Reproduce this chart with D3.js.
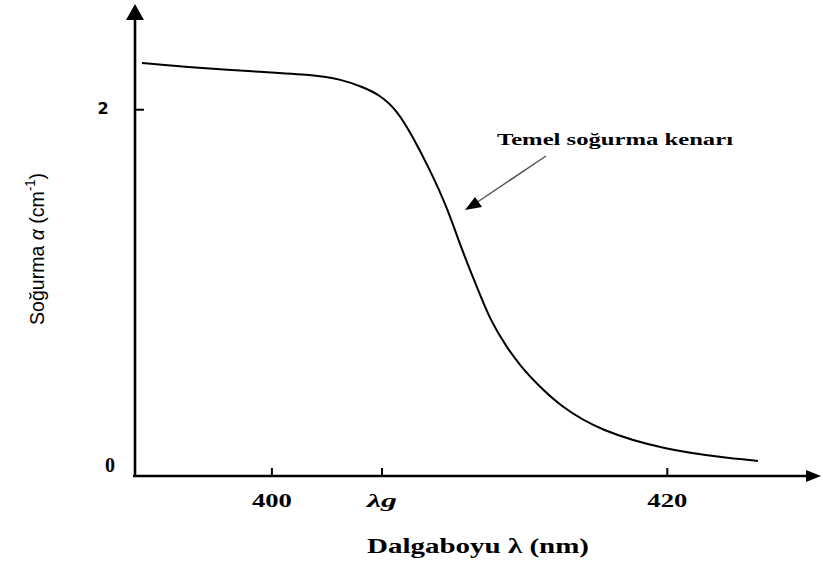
<!DOCTYPE html>
<html>
<head>
<meta charset="utf-8">
<script src="https://cdn.jsdelivr.net/npm/d3@7"></script>
<style>
	body { margin: 0; background: #fff; }
	svg { display: block; }
</style>
</head>
<body>
<div id="graph"></div>
<script>
let width = 823;
let height = 562;

// Absorption curve
let wavelength = [393.45, 396.24, 399.57, 402.10, 403.47, 404.63, 405.49, 406.35, 407.16, 408.02, 408.88,
	409.69, 410.40, 411.06, 411.92, 412.68, 413.44, 414.60, 416.63, 420.01, 422.69, 424.61];
let absorption = [2.255, 2.228, 2.206, 2.190, 2.168, 2.124, 2.080, 1.998, 1.851, 1.671, 1.469,
	1.218, 1.032, 0.852, 0.699, 0.590, 0.502, 0.382, 0.246, 0.142, 0.104, 0.082];

let xTickValues = [400, 405.57, 420];
let xTickLabels = ["400", "λg", "420"];
let yTickValues = [0, 2];
let yTickLabels = ["0", "2"];

let data = wavelength.map((w, i) => ({ x: w, y: absorption[i] }));

let xScale = d3.scaleLinear()
	.domain([393.1, 427.8])
	.range([135, 821]);
let yScale = d3.scaleLinear()
	.domain([0, 2.55])
	.range([476, 9]);

let svg = d3.select("#graph")
	.append("svg")
		.attr("width", width)
		.attr("height", height);

let x0 = xScale(393.1);

// y axis line + arrow
svg.append("line")
	.attr("x1", x0).attr("x2", x0)
	.attr("y1", yScale(0) + 1).attr("y2", 18)
	.attr("stroke", "#000").attr("stroke-width", 2.6);
svg.append("path")
	.attr("d", `M${x0},4 L${x0 - 9},20 L${x0 + 9},20 Z`)
	.attr("fill", "#000");

// x axis (ticks pointing up)
let xAxis = d3.axisBottom(xScale)
	.tickValues(xTickValues)
	.tickSizeInner(-8)
	.tickSizeOuter(0)
	.tickPadding(18)
	.tickFormat((d, i) => xTickLabels[i]);

let gx = svg.append("g")
	.attr("transform", `translate(0, ${yScale(0)})`)
	.call(xAxis);
gx.select(".domain")
	.attr("d", `M${x0 - 2},0 H${xScale(427.8) - 12}`)
	.attr("stroke-width", 2.6);
gx.selectAll(".tick line").attr("stroke-width", 2);
gx.selectAll(".tick text")
	.attr("font-family", "'Liberation Serif', serif")
	.attr("font-weight", "bold")
	.attr("font-size", 18)
	.attr("font-style", (d, i) => xTickLabels[i] === "λg" ? "italic" : "normal")
	.attr("textLength", (d, i) => xTickLabels[i] === "λg" ? 30 : 40)
	.attr("lengthAdjust", "spacingAndGlyphs");
svg.append("path")
	.attr("d", `M${xScale(427.8)},${yScale(0)} L${xScale(427.8) - 15},${yScale(0) - 6} L${xScale(427.8) - 15},${yScale(0) + 6} Z`)
	.attr("fill", "#000");

// y ticks
svg.selectAll(".ytick")
	.data(yTickValues.filter(v => v > 0))
	.enter()
	.append("line")
		.attr("class", "ytick")
		.attr("x1", x0).attr("x2", x0 + 9)
		.attr("y1", d => yScale(d)).attr("y2", d => yScale(d))
		.attr("stroke", "#000").attr("stroke-width", 2);
svg.selectAll(".ylabel")
	.data(yTickValues)
	.enter()
	.append("text")
		.attr("class", "ylabel")
		.attr("x", d => d === 0 ? 110 : 103)
		.attr("y", d => yScale(d) + (d === 0 ? -4 : 4))
		.attr("text-anchor", "middle")
		.attr("font-family", d => d === 0 ? "'Liberation Serif', serif" : "'DejaVu Sans', sans-serif")
		.attr("font-weight", "bold")
		.attr("font-size", d => d === 0 ? 20 : 16)
		.text((d, i) => yTickLabels[i]);

// curve
svg.append("path")
	.datum(data)
	.attr("fill", "none")
	.attr("stroke", "#000")
	.attr("stroke-width", 2)
	.attr("d", d3.line()
		.x(d => xScale(d.x))
		.y(d => yScale(d.y))
		.curve(d3.curveBasis));

// x title
svg.append("text")
	.attr("x", 367).attr("y", 553)
	.attr("font-family", "'Liberation Serif', serif")
	.attr("font-weight", "bold")
	.attr("font-size", 21)
	.attr("textLength", 222)
	.attr("lengthAdjust", "spacingAndGlyphs")
	.text("Dalgaboyu λ (nm)");

// y title
let yTitle = svg.append("text")
	.attr("transform", "translate(44, 325) rotate(-90)")
	.attr("font-family", "'Liberation Sans Narrow', 'Liberation Sans', sans-serif")
	.attr("font-size", 21)
	.attr("textLength", 152)
	.attr("lengthAdjust", "spacingAndGlyphs");
yTitle.append("tspan").text("Soğurma ");
yTitle.append("tspan").attr("font-style", "italic").text("α");
yTitle.append("tspan").text(" (cm");
yTitle.append("tspan").attr("dy", -9).attr("font-size", 14).text("-1");
yTitle.append("tspan").attr("dy", 9).text(")");

// annotation
svg.append("text")
	.attr("x", 497).attr("y", 145)
	.attr("font-family", "'Liberation Serif', serif")
	.attr("font-weight", "bold")
	.attr("font-size", 17)
	.attr("textLength", 236)
	.attr("lengthAdjust", "spacingAndGlyphs")
	.text("Temel soğurma kenarı");
svg.append("line")
	.attr("x1", 546).attr("y1", 156)
	.attr("x2", 476).attr("y2", 203)
	.attr("stroke", "#555").attr("stroke-width", 1.5);
svg.append("path")
	.attr("d", "M465,210 L475,197 L482,207 Z")
	.attr("fill", "#000");
</script>
</body>
</html>
